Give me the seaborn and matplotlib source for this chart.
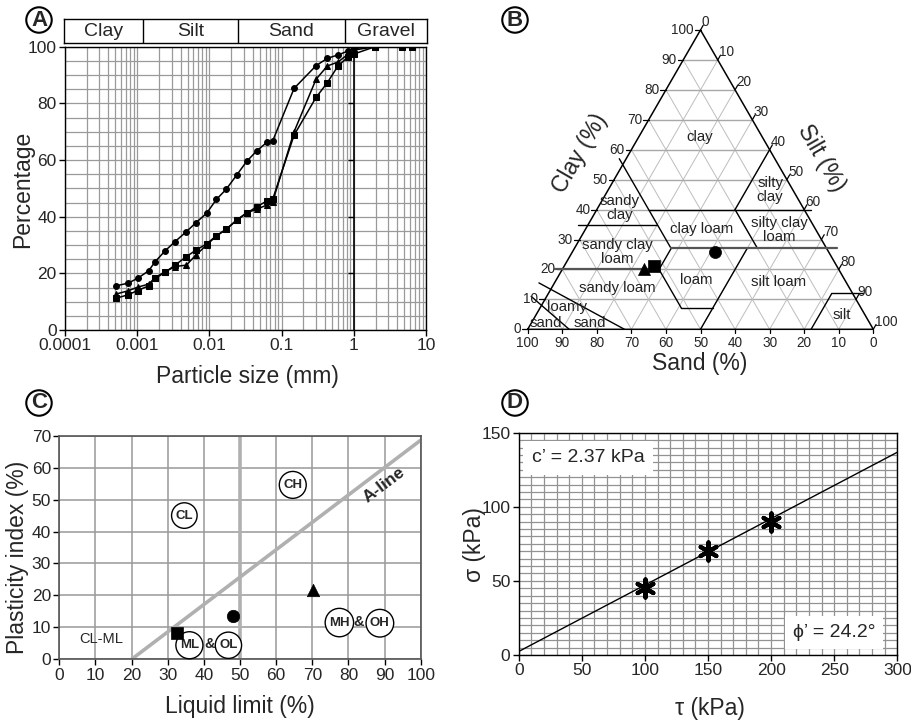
import numpy as np
import pandas as pd
import matplotlib
matplotlib.use("Agg")
import matplotlib.pyplot as plt
import seaborn as sns
from matplotlib.ticker import MultipleLocator, FixedLocator, FixedFormatter, LogLocator, NullFormatter

# ---- A : particle size distribution
grain_size = [0.00051, 0.00074, 0.00101, 0.00144, 0.00177, 0.00245, 0.00334, 0.0048,
              0.00652, 0.00916, 0.0125, 0.017, 0.0239, 0.0328, 0.0452, 0.0621, 0.0751,
              0.149, 0.300, 0.430, 0.604, 0.840, 1.0, 1.97]
grain_size_square = grain_size + [4.69, 6.3]
pct_circle = [15.6, 16.5, 18.2, 20.9, 24.1, 28.0, 31.2, 34.7, 37.9, 41.2, 46.1, 49.6,
              54.7, 59.5, 63.2, 66.2, 66.7, 85.3, 93.3, 95.9, 97.1, 98.5, 99.4, 100]
pct_triangle = [12.7, 13.8, 15.1, 16.2, 18.5, 20.6, 22.4, 22.9, 26.5, 30.0, 33.2, 35.5,
                38.8, 41.4, 42.6, 44.1, 45.3, 70.0, 88.5, 93.2, 94.6, 97.4, 98.8, 100]
pct_square = [11.2, 12.4, 13.9, 15.6, 18.2, 20.4, 22.9, 25.9, 28.2, 30.4, 33.3, 35.5,
              38.8, 41.2, 43.5, 45.5, 46.1, 68.8, 82.1, 87.3, 93.2, 96.5, 97.4, 100, 100, 100]
size_classes = ["Clay", "Silt", "Sand", "Gravel"]
class_bounds = [0.0001, 0.00122, 0.025, 0.74, 10]
size_ticks = [0.0001, 0.001, 0.01, 0.1, 1, 10]
size_ticklabels = ["0.0001", "0.001", "0.01", "0.1", "1", "10"]

# ---- B : texture triangle (sand, silt, clay in %)
sample_marker = ["^", "s", "o"]
sample_sand = [56.3, 52.8, 32.8]
sample_silt = [23.5, 26.0, 41.3]
sample_clay = [20.2, 21.2, 25.9]
# class boundaries as ((sand, clay), (sand, clay))
bound_black = [((45, 57), (45, 27)), ((45, 40), (-2, 40)), ((20, 40), (0, 60)),
               ((20, 40), (20, 27)), ((68, 35), (45, 35)), ((45, 27), (52, 20)),
               ((52, 20), (52, 7)), ((52, 7), (43, 7)), ((23, 27), (50, 0)),
               ((18, 0), (6, 12)), ((6, 12), (-3, 12)), ((89, 15.5), (72, 0)),
               ((93.5, 11), (88, 0))]
bound_gray = [((45, 27), (-3, 27)), ((82, 20), (52, 20))]
class_names = ["clay", "silty\nclay", "sandy\nclay", "clay loam", "silty clay\nloam",
               "sandy clay\nloam", "loam", "silt loam", "sandy loam", "loamy", "sand",
               "sand", "silt"]
class_sand = [18.2, 6.6, 53.3, 33.0, 10.6, 61.2, 42.9, 19.6, 67.2, 85.0, 80.9, 93.6, 6.8]
class_clay = [64.1, 46.5, 40.4, 33.4, 33.2, 25.9, 16.5, 15.9, 13.7, 7.3, 2.2, 2.2, 4.8]
tern_ticks = [0, 10, 20, 30, 40, 50, 60, 70, 80, 90, 100]

# ---- C : plasticity chart
liquid_limit = [32.5, 48.2, 70.1]
plasticity_index = [8.3, 13.4, 21.7]
aline_ll = [20, 100]
aline_pi = [0, 68.6]
zone_names = ["CL", "CH", "ML", "OL", "MH", "OH"]
zone_ll = [34.6, 64.6, 36.0, 46.8, 77.5, 88.7]
zone_pi = [45.0, 54.6, 4.4, 4.4, 11.5, 11.3]
amp_ll = [41.5, 82.7]
amp_pi = [4.8, 11.8]

# ---- D : shear test
tau = [100, 150, 200]
sigma = [45, 70, 90]
fit_tau = [0, 300]
fit_sigma = [2.37, 136.8]

sns.set_theme(style="white")
plt.rcParams["font.family"] = ["Liberation Sans", "DejaVu Sans"]
W, H = 911, 723

fig = plt.figure(figsize=(W / 100, H / 100), dpi=100)


def px_axes(l, t, r, b):
    return fig.add_axes([l / W, 1 - b / H, (r - l) / W, (b - t) / H])


def fig_text(x, y, s, **kw):
    fig.text(x / W, 1 - y / H, s, **kw)


def panel_letter(x, y, s):
    fig_text(x, y, s, fontsize=16, fontweight="bold", ha="center", va="center",
             bbox=dict(boxstyle="circle,pad=0.1", fc="white", ec="black", lw=1.5))


def style_ticks(ax, size=12):
    for lab in ax.get_xticklabels() + ax.get_yticklabels():
        lab.set_fontsize(size)
    ax.tick_params(which="major", direction="out", length=4, width=1, color="black", pad=2,
                   bottom=True, left=True)
    ax.tick_params(which="minor", length=0)


# ================= A
axA = px_axes(65, 46.7, 426, 330)
axA.set_xscale("log")
sns.lineplot(x=grain_size, y=pct_circle, ax=axA, color="black", lw=1.1, marker="o",
             markersize=4.2, markeredgecolor="black", estimator=None, sort=False)
sns.lineplot(x=grain_size, y=pct_triangle, ax=axA, color="black", lw=1.1, marker="^",
             markersize=4.6, markeredgecolor="black", estimator=None, sort=False)
sns.lineplot(x=grain_size_square, y=pct_square, ax=axA, color="black", lw=1.1, marker="s",
             markersize=4.5, markeredgecolor="black", estimator=None, sort=False)
axA.set_xlim(1e-4, 10)
axA.set_ylim(0, 100)
axA.xaxis.set_major_locator(FixedLocator(size_ticks))
axA.xaxis.set_major_formatter(FixedFormatter(size_ticklabels))
axA.xaxis.set_minor_locator(LogLocator(base=10, subs=np.arange(2, 10)))
axA.xaxis.set_minor_formatter(NullFormatter())
axA.yaxis.set_major_locator(MultipleLocator(20))
axA.yaxis.set_minor_locator(MultipleLocator(5))
axA.grid(True, which="both", color="#9a9a9a", lw=0.9)
axA.set_axisbelow(True)
axA.axvline(1, color="black", lw=1.2)
sns.scatterplot(x=[1, 1, 1, 1], y=[20, 40, 60, 80], ax=axA, marker=0, color="black",
                s=20, linewidth=1)
for sp in axA.spines.values():
    sp.set_color("black")
    sp.set_linewidth(1)
axA.set_xlabel("")
axA.set_ylabel("")
style_ticks(axA, 12.5)
fig_text(23, 189, "Percentage", fontsize=16.5, rotation=90, ha="center", va="center")
fig_text(247, 376, "Particle size (mm)", fontsize=16.5, ha="center", va="center")

band = px_axes(64.3, 19, 426.7, 43.3)
band.set_xscale("log")
band.set_xlim(class_bounds[0], class_bounds[-1])
band.set_ylim(0, 1)
band.set_xticks([])
band.set_yticks([])
band.minorticks_off()
for b in class_bounds[1:-1]:
    band.axvline(b, color="black", lw=1)
for i, name in enumerate(size_classes):
    xc = np.sqrt(class_bounds[i] * class_bounds[i + 1])
    band.text(xc, 0.5, name, ha="center", va="center", fontsize=14)
for sp in band.spines.values():
    sp.set_color("black")
    sp.set_linewidth(1)

panel_letter(39, 20, "A")

# ================= B
SQ3 = np.sqrt(3) / 2


def tern(sand, clay):
    sand = np.asarray(sand, dtype=float)
    clay = np.asarray(clay, dtype=float)
    return 100 - sand - clay / 2, clay * SQ3


scale = 345.6 / 100
axB = px_axes(460, 0, 911, 370)
axB.set_xlim((460 - 527.7) / scale, (911 - 527.7) / scale)
axB.set_ylim((329.3 - 370) / scale, 329.3 / scale)
axB.axis("off")

for v in range(10, 100, 10):
    x, y = tern([100 - v, 0], [v, v])
    axB.plot(x, y, color="#a8a8a8", lw=1.0, zorder=1)
    x, y = tern([v, v], [0, 100 - v])
    axB.plot(x, y, color="#bdbdbd", lw=0.7, zorder=1)
    x, y = tern([100 - v, 0], [0, 100 - v])
    axB.plot(x, y, color="#bdbdbd", lw=0.7, zorder=1)

x, y = tern([100, 0, 0, 100], [0, 0, 100, 0])
axB.plot(x, y, color="black", lw=1.1, zorder=3)

for (p0, p1) in bound_black:
    x, y = tern([p0[0], p1[0]], [p0[1], p1[1]])
    axB.plot(x, y, color="black", lw=1.0, zorder=3)
for (p0, p1) in bound_gray:
    x, y = tern([p0[0], p1[0]], [p0[1], p1[1]])
    axB.plot(x, y, color="#555555", lw=1.6, zorder=3)

for name, s, c in zip(class_names, class_sand, class_clay):
    x, y = tern(s, c)
    axB.text(x, y, name, ha="center", va="center", fontsize=10.8,
             linespacing=1.0, color="#222222", zorder=4)

for v in tern_ticks:
    # clay on left edge
    x, y = tern(100 - v, v)
    axB.plot([x - 1.6, x], [y, y], color="black", lw=0.9)
    axB.text(x - 1.9, y, str(v), ha="right", va="center", fontsize=9.8)
    # silt on right edge
    x, y = tern(0, 100 - v)
    axB.plot([x, x + 0.8], [y, y + 1.4], color="black", lw=0.9)
    axB.text(x + 0.4, y + 2.2, str(v), ha="left", va="center", fontsize=9.8)
    # sand on bottom
    x, y = tern(v, 0)
    axB.plot([x, x], [y, y - 1.0], color="black", lw=0.9)
    axB.text(x, -3.9, str(v), ha="center", va="center", fontsize=9.8)

for m, s, si, c in zip(sample_marker, sample_sand, sample_silt, sample_clay):
    x, y = tern(s, c)
    sns.scatterplot(x=[float(x)], y=[float(y)], ax=axB, marker=m, color="black", s=75,
                    edgecolor="black", linewidth=0.5, zorder=5)

axB.text(15.1, 51.0, "Clay (%)", rotation=60, ha="center", va="center", fontsize=16.5)
axB.text(85.1, 49.6, "Silt (%)", rotation=-60, ha="center", va="center", fontsize=16.5)
axB.text(49.9, -9.8, "Sand (%)", ha="center", va="center", fontsize=16.5)

panel_letter(515, 20, "B")

# ================= C
axC = px_axes(59.3, 435.7, 420.7, 659.3)
axC.set_xlim(0, 100)
axC.set_ylim(0, 70)
axC.xaxis.set_major_locator(MultipleLocator(10))
axC.yaxis.set_major_locator(MultipleLocator(10))
axC.grid(True, color="#999999", lw=1.1)
axC.set_axisbelow(True)
axC.axvline(50, color="#b0b0b0", lw=2.6, zorder=1.5)
sns.lineplot(x=aline_ll, y=aline_pi, ax=axC, color="#b0b0b0", lw=2.6, estimator=None,
             sort=False, zorder=1.6)
for m, ll, pi in zip(["s", "o", "^"], liquid_limit, plasticity_index):
    sns.scatterplot(x=[ll], y=[pi], ax=axC, marker=m, color="black", s=80,
                    edgecolor="black", linewidth=0.5, zorder=5)
for name, ll, pi in zip(zone_names, zone_ll, zone_pi):
    axC.text(ll, pi, name, ha="center", va="center", fontsize=9.5, fontweight="bold",
             zorder=4,
             bbox=dict(boxstyle="circle,pad=0.3", fc="white", ec="black", lw=1))
for ll, pi in zip(amp_ll, amp_pi):
    axC.text(ll, pi, "&", ha="center", va="center", fontsize=10.5, fontweight="bold", zorder=4)
axC.text(11.5, 6.4, "CL-ML", ha="center", va="center", fontsize=10.5)
axC.text(90.0, 54.6, "A-line", ha="center", va="center", fontsize=12.5, fontweight="bold",
         rotation=37)
for sp in axC.spines.values():
    sp.set_color("#555555")
    sp.set_linewidth(1.2)
axC.set_xlabel("")
axC.set_ylabel("")
style_ticks(axC, 12.5)
fig_text(18, 557, "Plasticity index (%)", fontsize=16.5, rotation=90, ha="center", va="center")
fig_text(240, 707, "Liquid limit (%)", fontsize=16.5, ha="center", va="center")

panel_letter(39, 403, "C")

# ================= D
axD = px_axes(518.7, 432.7, 897.3, 655)
axD.set_xlim(0, 300)
axD.set_ylim(0, 150)
axD.xaxis.set_major_locator(MultipleLocator(50))
axD.xaxis.set_minor_locator(MultipleLocator(10))
axD.yaxis.set_major_locator(MultipleLocator(50))
axD.yaxis.set_minor_locator(MultipleLocator(5))
axD.grid(True, which="both", color="#929292", lw=0.9)
axD.set_axisbelow(True)
sns.lineplot(x=fit_tau, y=fit_sigma, ax=axD, color="black", lw=1, estimator=None, sort=False)
sns.scatterplot(x=tau, y=sigma, ax=axD, marker=(6, 2, 0), color="black", s=170,
                linewidth=3, zorder=5)
axD.text(55, 133, "c\u2019 = 2.37 kPa", ha="center", va="center", fontsize=14, zorder=6,
         bbox=dict(boxstyle="square,pad=0.45", fc="white", ec="none"))
axD.text(250, 15, "\u03d5\u2019 = 24.2\u00b0", ha="center", va="center", fontsize=14,
         zorder=6, bbox=dict(boxstyle="square,pad=0.4", fc="white", ec="none"))
for sp in axD.spines.values():
    sp.set_color("black")
    sp.set_linewidth(1)
axD.set_xlabel("")
axD.set_ylabel("")
style_ticks(axD, 12.5)
fig_text(475, 545, "\u03c3 (kPa)", fontsize=16.5, rotation=90, ha="center", va="center")
fig_text(710, 708, "\u03c4 (kPa)", fontsize=16.5, ha="center", va="center")

panel_letter(515, 403, "D")

fig.savefig("out.png", dpi=100)
